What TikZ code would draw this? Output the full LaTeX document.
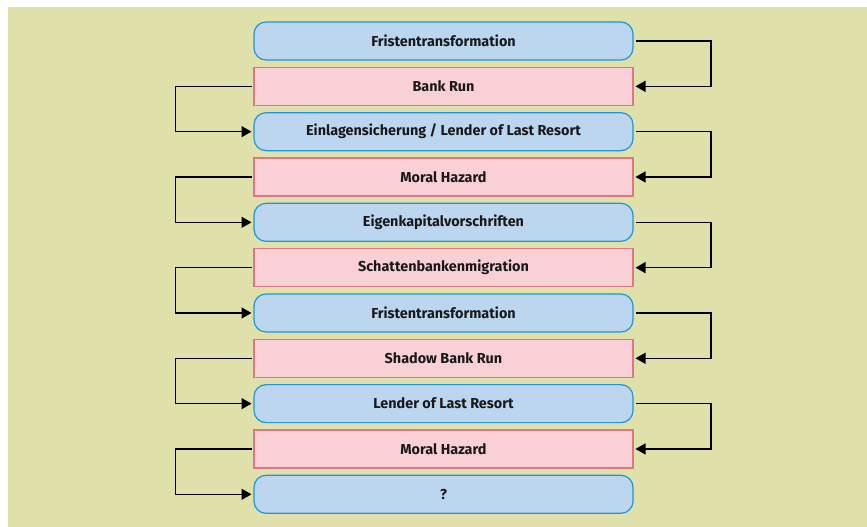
\documentclass[tikz,border=0pt]{standalone}
\usepackage{fontspec}
\setmainfont{Fira Sans}
\usetikzlibrary{arrows.meta,positioning}
\definecolor{bgkhaki}{RGB}{224,224,170}
\definecolor{blfill}{RGB}{188,214,240}
\definecolor{bldraw}{RGB}{30,150,215}
\definecolor{rdfill}{RGB}{249,208,213}
\definecolor{rddraw}{RGB}{222,118,134}
\tikzset{
    >={Triangle[length=10pt,width=11pt]},
    every picture/.style={line width=1.4pt},
    stage/.style={draw,line width=1.2pt,minimum width=379pt,minimum height=38pt,
        outer sep=2.5pt,inner sep=0pt,font=\bfseries\fontsize{14.4}{16}\selectfont,text=black!90},
    measure/.style={stage,rounded corners=12pt,fill=blfill,draw=bldraw},
    effect/.style={stage,fill=rdfill,draw=rddraw}
}
\begin{document}
\begin{tikzpicture}[x=1pt,y=1pt,node distance=2.33pt]
    \useasboundingbox (0,0) rectangle (867,-527);
    \fill[bgkhaki] (8,-7) rectangle (867,-527);

    % chain of measures and side effects
    \node[measure] (n1) at (443.5,-41) {Fristentransformation};
    \node[effect,below=of n1] (n2) {Bank Run};
    \node[measure,below=of n2] (n3) {Einlagensicherung / Lender of Last Resort};
    \node[effect,below=of n3] (n4) {Moral Hazard};
    \node[measure,below=of n4] (n5) {Eigenkapitalvorschriften};
    \node[effect,below=of n5] (n6) {Schattenbankenmigration};
    \node[measure,below=of n6] (n7) {Fristentransformation};
    \node[effect,below=of n7] (n8) {Shadow Bank Run};
    \node[measure,below=of n8] (n9) {Lender of Last Resort};
    \node[effect,below=of n9] (n10) {Moral Hazard};
    \node[measure,below=of n10] (n11) {?};

    % arrows
    \foreach \i/\j in {1/2,3/4,5/6,7/8,9/10}
        \draw[->] (n\i.east) -- ++(75.5,0) |- (n\j.east);
    \foreach \i/\j in {2/3,4/5,6/7,8/9,10/11}
        \draw[->] (n\i.west) -- ++(-76,0) |- (n\j.west);
\end{tikzpicture}
\end{document}
